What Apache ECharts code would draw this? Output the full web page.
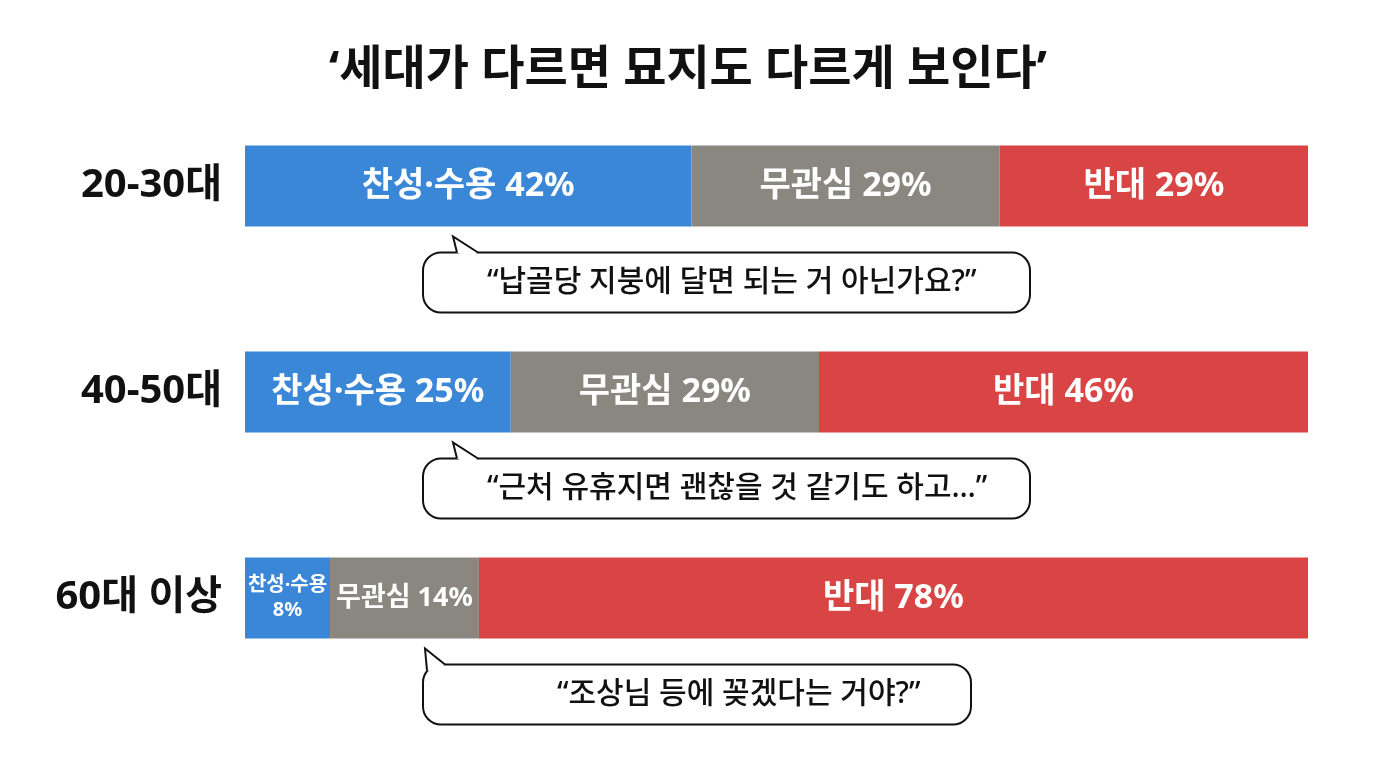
<!DOCTYPE html>
<html><head><meta charset="utf-8">
<script src="https://cdn.jsdelivr.net/npm/echarts@6/dist/echarts.min.js"></script>
<style>html,body{margin:0;padding:0;background:#fff}#c{width:1376px;height:768px}</style>
</head><body><div id="c"></div>
<script>
const categories = ['20-30대', '40-50대', '60대 이상'];
const seriesNames = ['찬성·수용', '무관심', '반대'];
const support = [42, 25, 8];
const indifferent = [29, 29, 14];
const oppose = [29, 46, 78];
const quotes = ['“납골당 지붕에 달면 되는 거 아닌가요?”', '“근처 유휴지면 괜찮을 것 같기도 하고…”', '“조상님 등에 꽂겠다는 거야?”'];
const titleText = '‘세대가 다르면 묘지도 다르게 보인다’';

const FONT = '"Noto Sans", "Noto Sans CJK KR", sans-serif';
const colors = ['#3a87d8', '#8a8680', '#d94545'];
const BAR_H = 81;

const chart = echarts.init(document.getElementById('c'));

function mkData(arr) {
  return arr.map(v => ({
    value: v,
    label: v < 10 ? { fontSize: 20, lineHeight: 25 } : (v < 20 ? { fontSize: 27 } : {})
  }));
}
function mkSeries(name, arr, i) {
  return {
    name: name, type: 'bar', stack: 'all', barWidth: BAR_H,
    itemStyle: { color: colors[i] },
    label: {
      show: true, position: 'inside', color: '#fff', fontFamily: FONT,
      fontWeight: 'bold', fontSize: 34,
      formatter: p => p.value < 10 ? (p.seriesName + '\n' + p.value + '%') : (p.seriesName + ' ' + p.value + '%')
    },
    data: mkData(arr)
  };
}

chart.setOption({
  backgroundColor: '#fff',
  animation: false,
  title: {
    text: titleText, left: 'center', top: 42,
    textStyle: { fontFamily: FONT, fontSize: 47, fontWeight: 'bold', color: '#111' }
  },
  grid: { left: 245, right: 68, top: 83, bottom: 67, containLabel: false },
  xAxis: { type: 'value', min: 0, max: 100, show: false },
  yAxis: {
    type: 'category', inverse: true, data: categories,
    axisLine: { show: false }, axisTick: { show: false },
    axisLabel: { margin: 23, color: '#111', fontFamily: FONT, fontWeight: 'bold', fontSize: 40 }
  },
  series: [
    mkSeries(seriesNames[0], support, 0),
    mkSeries(seriesNames[1], indifferent, 1),
    mkSeries(seriesNames[2], oppose, 2)
  ]
});

// speech bubbles (layout derived from bar positions)
const bubbleWidths = [607, 607, 548];
const textOffsets = [64, 64, 134];
const tailX = [30, 30, 2];
const graphics = [];
categories.forEach((cat, i) => {
  const cy = chart.convertToPixel({ yAxisIndex: 0 }, cat);
  const bottom = cy + BAR_H / 2;
  const L = 423, T = bottom + 26, W = bubbleWidths[i], H = 60, r = 18;
  const ax = L + tailX[i], ay = bottom + 10;
  let lb, rb;
  if (tailX[i] < 10) { lb = [L + 4, T + 6]; rb = [L + 22, T]; }
  else { lb = [ax + 4, T]; rb = [ax + 25, T]; }
  graphics.push({
    type: 'rect', shape: { x: L, y: T, width: W, height: H, r: r },
    style: { fill: '#fff', stroke: '#111', lineWidth: 2 }, z: 10
  });
  graphics.push({
    type: 'polygon', shape: { points: [lb, [ax, ay], rb, [(lb[0] + rb[0]) / 2 + 2, T + 6]] },
    style: { fill: '#fff', stroke: null }, z: 11
  });
  graphics.push({
    type: 'polyline', shape: { points: [lb, [ax, ay], rb] },
    style: { fill: null, stroke: '#111', lineWidth: 2 }, z: 12
  });
  graphics.push({
    type: 'text', x: L + textOffsets[i], y: T + H / 2, z: 13,
    style: { text: quotes[i], fill: '#111', font: '500 30px ' + FONT, textAlign: 'left', textVerticalAlign: 'middle' }
  });
});
chart.setOption({ graphic: graphics });
</script>
</body></html>
